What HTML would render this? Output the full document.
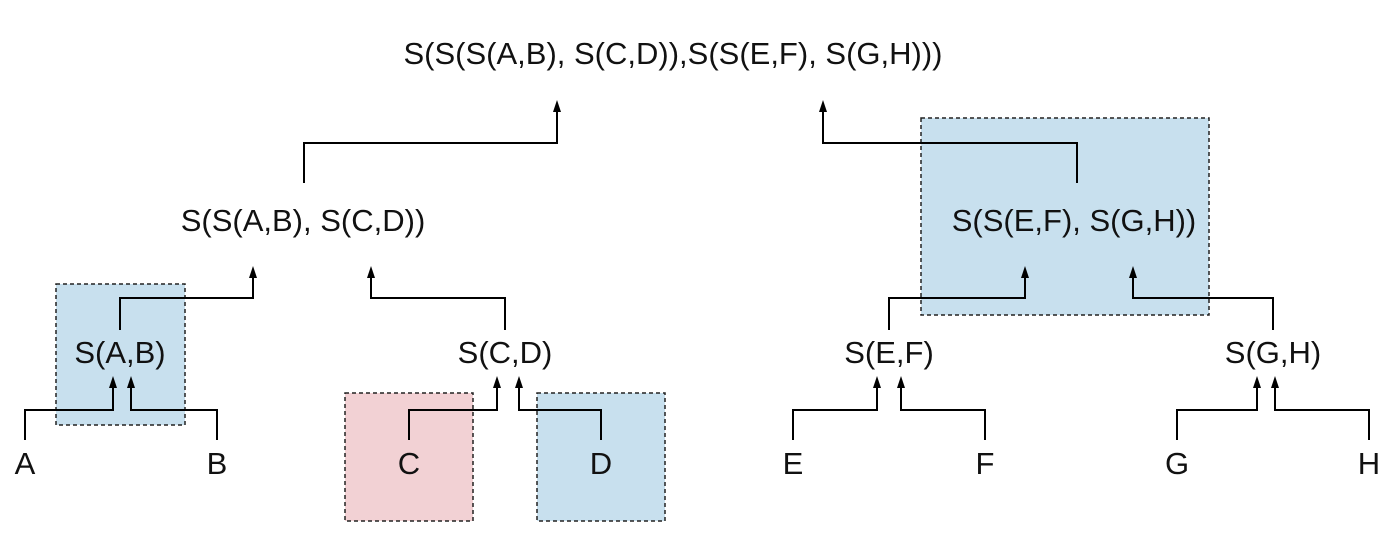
<!DOCTYPE html>
<html><head><meta charset="utf-8"><style>
html,body{margin:0;padding:0;background:#fff;}
svg text{font-family:"Liberation Sans",sans-serif;font-size:31px;fill:#111;text-anchor:middle;}
</style></head><body>
<svg width="1400" height="555" viewBox="0 0 1400 555" xmlns="http://www.w3.org/2000/svg">
<g stroke="#222" stroke-width="1.5" stroke-dasharray="4,3">
<rect x="56" y="284" width="129" height="141" fill="#c8e0ee"/>
<rect x="345" y="393" width="128" height="128" fill="#f2d1d4"/>
<rect x="537" y="393" width="128" height="128" fill="#c8e0ee"/>
<rect x="921" y="118" width="288" height="197" fill="#c8e0ee"/>
</g>
<g fill="none" stroke="#000" stroke-width="2">
<polyline points="25,440 25,410 113,410 113,385"/>
<polyline points="217,440 217,410 131,410 131,385"/>
<polyline points="120,330 120,298 253,298 253,275"/>
<polyline points="505,330 505,298 371,298 371,275"/>
<polyline points="304,183 304,143 557,143 557,109"/>
<polyline points="409,440 409,410 497,410 497,385"/>
<polyline points="601,440 601,410 519,410 519,385"/>
<polyline points="1077,183 1077,143 823,143 823,109"/>
<polyline points="889,330 889,298 1025,298 1025,275"/>
<polyline points="1273,330 1273,298 1133,298 1133,275"/>
<polyline points="793,440 793,410 877,410 877,385"/>
<polyline points="985,440 985,410 901,410 901,385"/>
<polyline points="1177,440 1177,410 1257,410 1257,385"/>
<polyline points="1369,440 1369,410 1275,410 1275,385"/>
</g>
<g fill="#000">
<path d="M113,376 l-4,12 h8z"/><path d="M131,376 l-4,12 h8z"/>
<path d="M253,266 l-4,12 h8z"/><path d="M371,266 l-4,12 h8z"/>
<path d="M557,100 l-4,12 h8z"/><path d="M823,100 l-4,12 h8z"/>
<path d="M497,376 l-4,12 h8z"/><path d="M519,376 l-4,12 h8z"/>
<path d="M1025,266 l-4,12 h8z"/><path d="M1133,266 l-4,12 h8z"/>
<path d="M877,376 l-4,12 h8z"/><path d="M901,376 l-4,12 h8z"/>
<path d="M1257,376 l-4,12 h8z"/><path d="M1275,376 l-4,12 h8z"/>
</g>
<text x="673" y="64">S(S(S(A,B), S(C,D)),S(S(E,F), S(G,H)))</text>
<text x="303" y="231">S(S(A,B), S(C,D))</text>
<text x="1074" y="231">S(S(E,F), S(G,H))</text>
<text x="120" y="363">S(A,B)</text>
<text x="505" y="363">S(C,D)</text>
<text x="889" y="363">S(E,F)</text>
<text x="1273" y="363">S(G,H)</text>
<text x="25" y="474">A</text>
<text x="217" y="474">B</text>
<text x="409" y="474">C</text>
<text x="601" y="474">D</text>
<text x="793" y="474">E</text>
<text x="985" y="474">F</text>
<text x="1177" y="474">G</text>
<text x="1369" y="474">H</text>
</svg>
</body></html>
